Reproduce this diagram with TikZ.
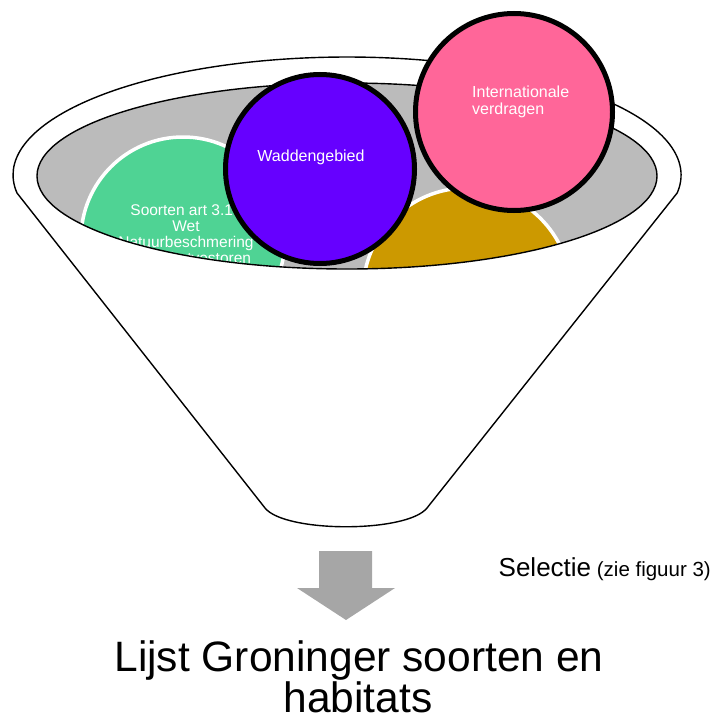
\documentclass[tikz,border=0pt]{standalone}
\usepackage{fontspec}
\setmainfont{Liberation Sans}
\definecolor{fgreen}{HTML}{4FD394}
\definecolor{fgold}{HTML}{CC9900}
\definecolor{fpurple}{HTML}{6600FF}
\definecolor{fpink}{HTML}{FF6699}
\definecolor{fgrey}{HTML}{BBBBBB}
\definecolor{farrow}{HTML}{A6A6A6}
\begin{document}
\begin{tikzpicture}[x=1pt,y=1pt,
  back circle/.style={circle, inner sep=0pt, minimum size=#1, draw=white, line width=3.5pt},
  front circle/.style={circle, inner sep=0pt, minimum size=#1, draw=black, line width=5pt},
  whitetext/.style={text=white, font=\fontsize{15.5}{16}\selectfont, inner sep=0pt},
  outline/.style={draw=black, line width=1.4pt}]
\useasboundingbox (0,0) rectangle (715,-717);

% funnel body (white)
\path[fill=white] (17,-193) arc[start angle=188.77, end angle=-8.77, x radius=334, y radius=118]
  -- (427,-508) .. controls (407,-533) and (285,-533) .. (265,-508) -- cycle;

% grey opening
\fill[fgrey] (347,-176) ellipse [x radius=310, y radius=93];

% circles inside the funnel
\node[back circle=204, fill=fgreen] (soorten) at (183,-239) {};
\node[whitetext, align=center] (soortentext) at (186,-234.4)
  {Soorten art 3.10\\Wet\\Natuurbeschmering\\en Habitatvestoren};
\node[back circle=208, fill=fgold] (gold) at (467,-292) {};

% funnel front face
\path[fill=white] (37,-176) arc[start angle=180, end angle=360, x radius=310, y radius=93]
  -- (681,-175) arc[start angle=0, end angle=-8.77, x radius=334, y radius=118]
  -- (427,-508) .. controls (407,-533) and (285,-533) .. (265,-508)
  -- (17,-193) arc[start angle=188.77, end angle=180, x radius=334, y radius=118] -- cycle;

% outlines
\draw[outline] (347,-176) ellipse [x radius=310, y radius=93];
\draw[outline, line join=round] (17,-193) arc[start angle=188.77, end angle=-8.77, x radius=334, y radius=118]
  -- (427,-508) .. controls (407,-533) and (285,-533) .. (265,-508) -- cycle;

% circles on top
\node[front circle=189, fill=fpurple] (wadden) at (320,-169) {};
\node[whitetext, anchor=base, font=\fontsize{16}{18}\selectfont] (waddentext) at (311,-161) {Waddengebied};
\node[front circle=197, fill=fpink] (verdragen) at (514,-112) {};
\node[whitetext, align=left, anchor=west, font=\fontsize{16}{17}\selectfont] (verdragentext) at (472,-101.4)
  {Internationale\\verdragen};

% block arrow
\fill[farrow] (319,-551) -- (372,-551) -- (372,-588) -- (395,-588) -- (346,-620) -- (297,-588) -- (319,-588) -- cycle;

% texts below
\node[anchor=base east, inner sep=0pt] (selectie) at (711,-576)
  {{\fontsize{26}{30}\selectfont Selectie}\fontsize{20.5}{24}\selectfont\ (zie figuur 3)};
\node[anchor=base, inner sep=0pt, font=\fontsize{42.5}{44}\selectfont] (title1) at (359,-671) {Lijst Groninger soorten en};
\node[anchor=base, inner sep=0pt, font=\fontsize{42.5}{44}\selectfont] (title2) at (358,-712) {habitats};
\end{tikzpicture}
\end{document}
